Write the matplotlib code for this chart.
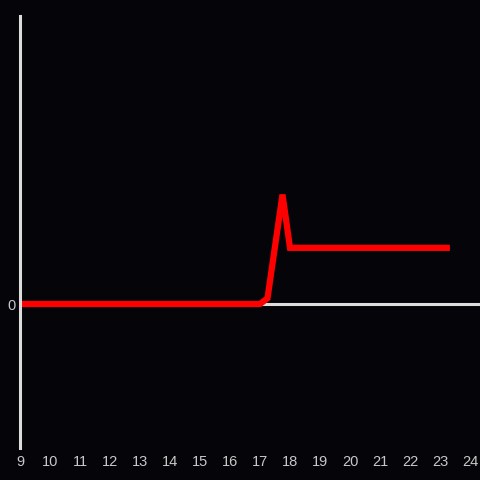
import matplotlib.pyplot as plt

# hour of day vs value
hours = [9.0, 17.0, 17.25, 17.75, 18.0, 23.33]
values = [0.0, 0.0, 0.04, 0.76, 0.39, 0.39]
xticks = list(range(9, 25))

bg = '#050408'
axis_col = '#dcdcdc'

plt.rcParams['font.family'] = ['Liberation Sans', 'DejaVu Sans']

fig = plt.figure(figsize=(4.8, 4.8), dpi=100, facecolor=bg)
ax = fig.add_axes([20 / 480, 32 / 480, 460 / 480, 432 / 480])
ax.set_facecolor(bg)

# zero line and left axis
ax.axhline(0, color=axis_col, lw=2.2, zorder=1)
ax.plot(hours, values, color='#ff0000', lw=4.5, solid_joinstyle='miter',
        solid_capstyle='butt', zorder=2)

ax.set_xlim(9, 24.333)
ax.set_ylim(-1, 2)

for side in ['top', 'right', 'bottom']:
    ax.spines[side].set_visible(False)
ax.spines['left'].set_color(axis_col)
ax.spines['left'].set_linewidth(2.2)

ax.set_xticks(xticks)
ax.set_xticklabels([str(t) for t in xticks])
ax.set_yticks([0])
ax.set_yticklabels(['0'])
ax.tick_params(axis='both', length=0, colors='#c8c8c8', labelsize=10.5)
ax.tick_params(axis='x', pad=5)
ax.tick_params(axis='y', pad=3)

fig.savefig('out.png', dpi=100, facecolor=bg)
